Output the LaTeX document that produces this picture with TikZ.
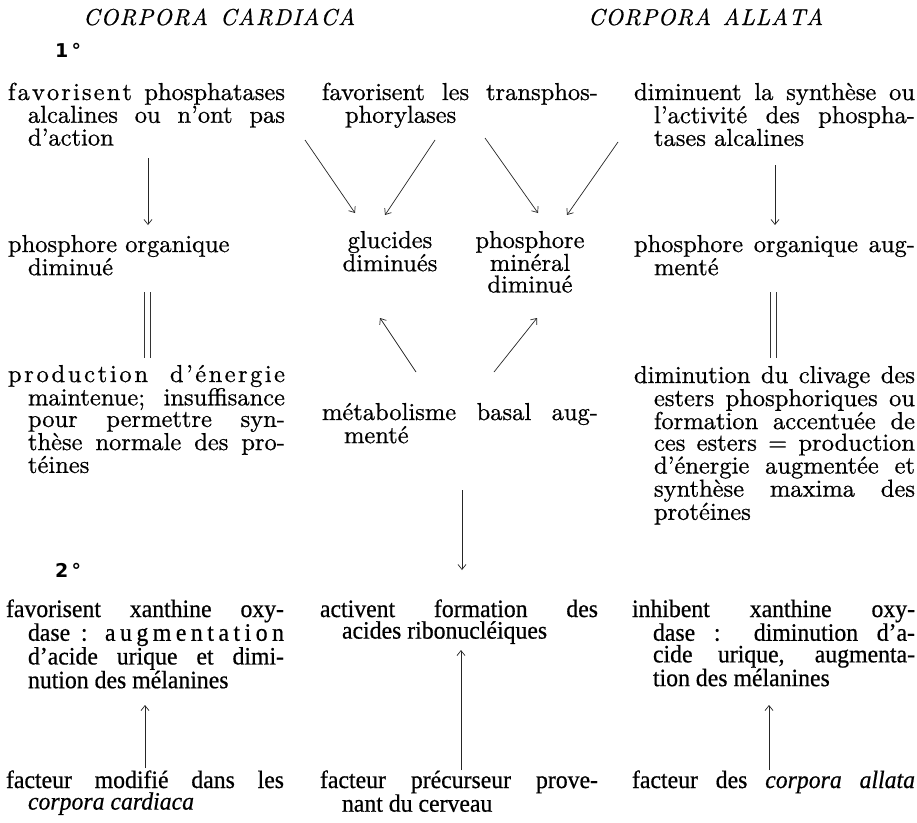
\documentclass[tikz,border=0pt]{standalone}
\usepackage{fontspec}
\usetikzlibrary{arrows.meta}
\setmainfont{lmroman10-regular.otf}[ItalicFont=lmroman10-italic.otf,BoldFont=lmroman10-bold.otf,BoldItalicFont=lmroman10-bolditalic.otf,FakeBold=0.7]
\newfontfamily\condfont{Liberation Serif}[FakeStretch=0.95,FakeBold=0.6]
\newfontfamily\bsans{DejaVu Sans}
\newcommand\J[2]{\makebox[#1][s]{#2}}
\newcommand\I{\hspace*{20pt}}
\newcommand\bodyfont{\fontsize{24.5}{21.6}\selectfont\lineskiplimit=-40pt}
\newcommand\bottomfont{\condfont\fontsize{25}{21.6}\selectfont\lineskiplimit=-40pt}
\begin{document}
\begin{tikzpicture}[x=1pt,y=-1pt,
  blk/.style={anchor=base west,inner sep=0pt,outer sep=0pt,font=\bodyfont},
  cblk/.style={anchor=base,inner sep=0pt,outer sep=0pt,font=\bodyfont},
  bblk/.style={anchor=base west,inner sep=0pt,outer sep=0pt,font=\bottomfont},
  ttl/.style={anchor=base west,inner sep=0pt,font=\fontsize{23}{23}\selectfont\itshape},
  numlab/.style={anchor=base west,inner sep=0pt,font=\bsans\bfseries\fontsize{19}{19}\selectfont},
  arr/.style={line width=0.7pt,draw=black!85,-{Straight Barb[length=5pt,width=8pt,line width=0.7pt]}},
  dbl/.style={line width=0.7pt,draw=black!80}]
\fill[white] (0,0) rectangle (917,822);
\useasboundingbox (0,0) rectangle (917,822);

% titles
\node[ttl] (t1) at (83,25) {\makebox[272pt][s]{C\hfil O\hfil R\hfil P\hfil O\hfil R\hfil A\hspace{10pt plus 2fil}C\hfil A\hfil R\hfil D\hfil I\hfil A\hfil C\hfil A}};
\node[ttl] (t2) at (588,25) {\makebox[235pt][s]{C\hfil O\hfil R\hfil P\hfil O\hfil R\hfil A\hspace{10pt plus 2fil}A\hfil L\hfil L\hfil A\hfil T\hfil A}};
\node[numlab] (n1) at (55,57) {1\,°};
\node[numlab] (n2) at (55,577) {2\,°};

% row 1
\node[blk] (a1) at (8,100) {\parbox[t]{285pt}{%
\J{277pt}{\makebox[124pt][s]{f\hfil a\hfil v\hfil o\hfil r\hfil i\hfil s\hfil e\hfil n\hfil t} phosphatases}\\
\I\J{257pt}{alcalines ou n’ont pas}\\
\I d’action}};
\node[blk] (b1) at (322,100) {\parbox[t]{285pt}{%
\J{276pt}{favorisent les transphos-}\\
\hspace*{23pt}phorylases}};
\node[blk] (c1) at (634,100) {\parbox[t]{285pt}{%
\J{281pt}{diminuent la synthèse ou}\\
\I\J{261pt}{l’activité des phospha-}\\
\I tases alcalines}};

\node[blk] (a2) at (8,252) {\parbox[t]{285pt}{%
phosphore organique\\
\I diminué}};
\node[cblk] (gl) at (390,248) {\parbox[t]{120pt}{\centering glucides\\diminués}};
\node[cblk] (mn) at (530,248) {\parbox[t]{120pt}{\centering phosphore\\minéral\\diminué}};
\node[blk] (c2) at (634,252) {\parbox[t]{285pt}{%
\J{281pt}{phosphore organique aug-}\\
\I menté}};

\node[blk] (a3) at (8,382) {\parbox[t]{285pt}{%
\J{277pt}{\makebox[140pt][s]{p\hfil r\hfil o\hfil d\hfil u\hfil c\hfil t\hfil i\hfil o\hfil n} \makebox[115pt][s]{d\hfil ’\hfil é\hfil n\hfil e\hfil r\hfil g\hfil i\hfil e}}\\
\I\J{257pt}{maintenue; insuffisance}\\
\I\J{257pt}{pour permettre syn-}\\
\I\J{257pt}{thèse normale des pro-}\\
\I téines}};
\node[blk] (b3) at (322,420) {\parbox[t]{285pt}{%
\J{276pt}{métabolisme basal aug-}\\
\hspace*{22pt}menté}};
\node[blk] (c3) at (634,383) {\parbox[t]{285pt}{%
\J{281pt}{diminution du clivage des}\\
\I\J{261pt}{esters phosphoriques ou}\\
\I\J{261pt}{formation accentuée de}\\
\I\J{261pt}{ces esters = production}\\
\I\J{261pt}{d’énergie augmentée et}\\
\I\J{261pt}{synthèse maxima des}\\
\I protéines}};

% row 2
\node[bblk] (a4) at (6,617) {\parbox[t]{290pt}{%
\J{278pt}{favorisent xanthine oxy-}\\
\hspace*{22pt}\J{256pt}{dase : \makebox[179pt][s]{a\hfil u\hfil g\hfil m\hfil e\hfil n\hfil t\hfil a\hfil t\hfil i\hfil o\hfil n}}\\
\hspace*{22pt}\J{256pt}{d’acide urique et dimi-}\\
\hspace*{22pt}nution des mélanines}};
\node[bblk] (b4) at (320,617) {\parbox[t]{290pt}{%
\J{278pt}{activent formation des}\\
\hspace*{22pt}acides ribonucléiques}};
\node[bblk] (c4) at (632,617) {\parbox[t]{290pt}{%
\J{283pt}{inhibent xanthine oxy-}\\
\hspace*{21pt}\J{262pt}{dase : diminution d’a-}\\
\hspace*{21pt}\J{262pt}{cide urique, augmenta-}\\
\hspace*{21pt}tion des mélanines}};

\node[bblk] (a5) at (6,788) {\parbox[t]{290pt}{%
\J{278pt}{facteur modifié dans les}\\
\hspace*{22pt}\textit{corpora cardiaca}}};
\node[bblk] (b5) at (320,788) {\parbox[t]{290pt}{%
\J{278pt}{facteur précurseur prove-}\\
\hspace*{22pt}nant du cerveau}};
\node[bblk] (c5) at (632,788) {\parbox[t]{290pt}{%
\J{283pt}{facteur des \textit{corpora allata}}}};

% connectors
\draw[arr] ([shift={(140,58)}]a1.base west) -- ([shift={(140,-27)}]a2.base west);
\draw[arr] ([shift={(141,65)}]c1.base west) -- ([shift={(141,-27)}]c2.base west);
\draw[dbl] ([shift={(136,40)}]a2.base west) -- ([shift={(136,-24)}]a3.base west);
\draw[dbl] ([shift={(142,40)}]a2.base west) -- ([shift={(142,-24)}]a3.base west);
\draw[dbl] ([shift={(136,40)}]c2.base west) -- ([shift={(136,-25)}]c3.base west);
\draw[dbl] ([shift={(142,40)}]c2.base west) -- ([shift={(142,-25)}]c3.base west);

\draw[arr] ([shift={(297,40)}]a1.base west) -- ([shift={(-35,-35)}]gl.base);
\draw[arr] ([shift={(113,40)}]b1.base west) -- ([shift={(-5,-33)}]gl.base);
\draw[arr] ([shift={(163,38)}]b1.base west) -- ([shift={(8,-35)}]mn.base);
\draw[arr] ([shift={(-16,42)}]c1.base west) -- ([shift={(37,-33)}]mn.base);
\draw[arr] ([shift={(94,-48)}]b3.base west) -- ([shift={(-10,70)}]gl.base);
\draw[arr] ([shift={(172,-48)}]b3.base west) -- ([shift={(7,70)}]mn.base);

\draw[arr] ([shift={(140,70)}]b3.base west) -- ([shift={(142,-47)}]b4.base west);
\draw[arr] ([shift={(141,-18)}]b5.base west) -- ([shift={(141,33)}]b4.base west);
\draw[arr] ([shift={(139,-20)}]a5.base west) -- ([shift={(139,88)}]a4.base west);
\draw[arr] ([shift={(137,-18)}]c5.base west) -- ([shift={(137,88)}]c4.base west);
\end{tikzpicture}
\end{document}
